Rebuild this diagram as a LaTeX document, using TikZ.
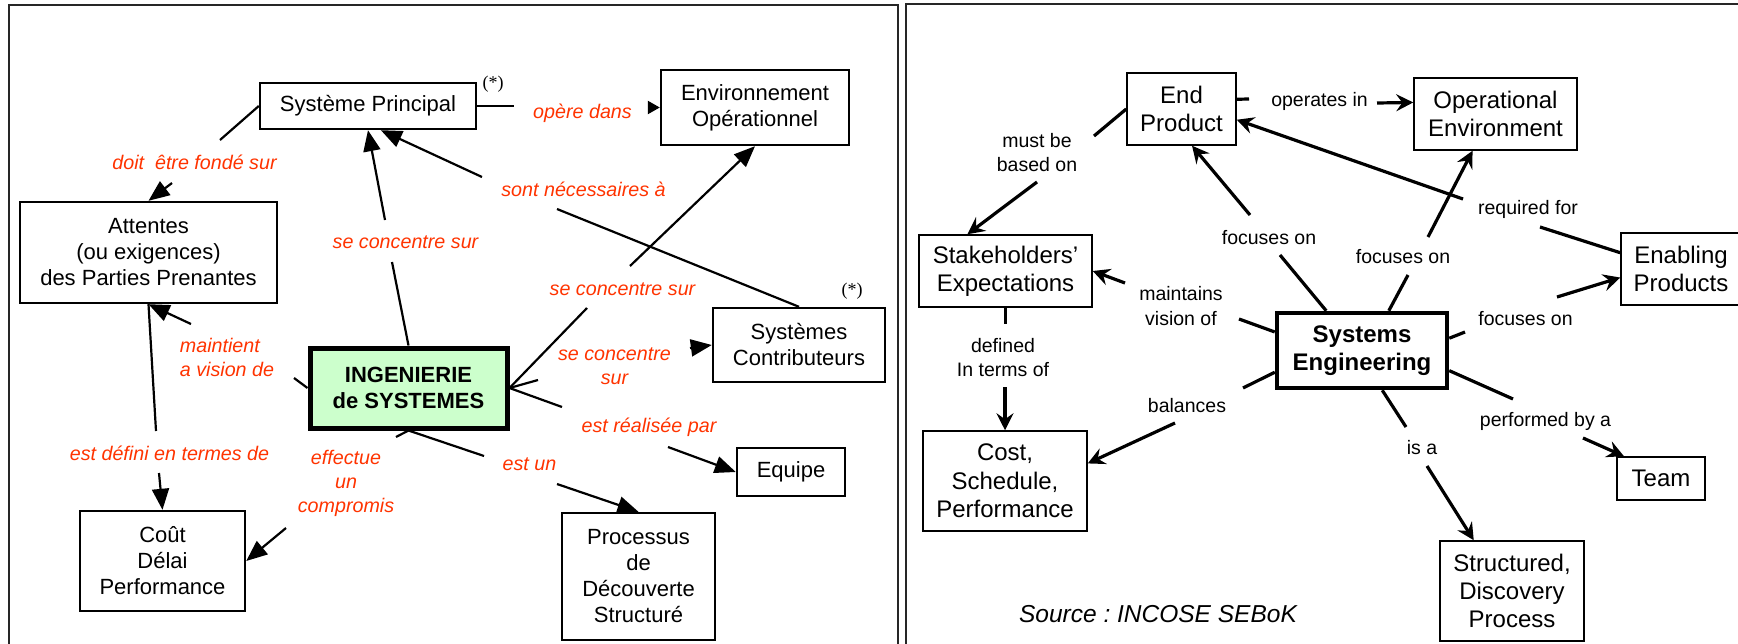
\documentclass[tikz,border=0pt]{standalone}
\usepackage{fontspec}
\setmainfont{Liberation Sans}
\newfontfamily\starfont{Liberation Serif}
\usetikzlibrary{arrows.meta}
\frenchspacing

\definecolor{linkred}{RGB}{255,51,0}
\definecolor{paleGreen}{RGB}{204,255,204}

\begin{document}
\begin{tikzpicture}[x=1pt,y=-1pt,
  frame/.style={line width=1.8pt, draw=black!85},
  lbox/.style={draw, line width=2.4pt, align=center, inner sep=0pt,
    font=\fontsize{22}{26}\selectfont},
  rbox/.style={draw, line width=1.5pt, align=center, inner sep=0pt,
    font=\fontsize{24}{28.3}\selectfont},
  llab/.style={align=center, inner sep=0pt, text=linkred,
    font=\fontsize{19.7}{24}\selectfont\itshape},
  rlab/.style={align=center, inner sep=0pt,
    font=\fontsize{19.5}{24.5}\selectfont},
  lline/.style={line width=2.2pt},
  larrow/.style={lline, -{Triangle[length=21pt,width=17pt]}},
  rline/.style={line width=3.2pt},
  rarrow/.style={rline, -{Stealth[length=17pt,width=17pt,inset=6pt]}},
  starmark/.style={inner sep=0pt, font=\starfont\fontsize{18}{20}\selectfont},
]
\useasboundingbox (0,0) rectangle (1738,643);

% panel frames
\draw[frame] (9,650) -- (9,5) -- (898,5) -- (898,650);
\draw[frame] (906,650) -- (906,4) -- (1745,4);

% ---------------- French concept map ----------------
\node[lbox, minimum width=216pt, minimum height=46pt] (sp) at (368,106) {Système Principal};
\node[lbox, minimum width=188pt, minimum height=75pt] (env) at (755,107.5) {Environnement\\Opérationnel};
\node[lbox, minimum width=257pt, minimum height=101pt] (att) at (148.5,252.5) {Attentes\\(ou exigences)\\des Parties Prenantes};
\node[lbox, minimum width=172pt, minimum height=74pt] (sc) at (799,345) {Systèmes\\Contributeurs};
\node[lbox, line width=5pt, fill=paleGreen, font=\fontsize{22}{26}\selectfont\bfseries,
      minimum width=197pt, minimum height=80pt] (ing) at (408.5,388) {INGENIERIE\\de SYSTEMES};
\node[lbox, minimum width=108pt, minimum height=48pt] (eq) at (791,472) {Equipe};
\node[lbox, minimum width=165pt, minimum height=100pt] (cout) at (162.5,561) {Coût\\Délai\\Performance};
\node[lbox, minimum width=153pt, minimum height=127pt] (proc) at (638.5,576.5) {Processus\\de\\Découverte\\Structuré};

\node[starmark] (st1) at (493,84) {(*)};
\node[starmark] (st2) at (852,291) {(*)};

\node[llab] (l1) at (194.5,162.5) {doit\ \ être fondé sur};
\node[llab] (l2) at (582.5,113) {opère dans};
\node[llab] (l3) at (405.5,242) {se concentre sur};
\node[llab] (l4) at (583.5,189) {sont nécessaires à};
\node[llab] (l5) at (622.5,289) {se concentre sur};
\node[llab] (l6) at (614.5,366) {se concentre\\sur};
\node[llab] (l7) at (649,427.5) {est réalisée par};
\node[llab] (l8) at (529.5,464) {est un};
\node[llab, align=left] (l9) at (227,357.5) {maintient\\a vision de};
\node[llab] (l10) at (169.5,453) {est défini en termes de};
\node[llab] (l11) at (346,483) {effectue\\un\\compromis};

\coordinate (g1a) at (220,140);  \coordinate (g1b) at (172,183);
\coordinate (g2a) at (514,106);  \coordinate (g2b) at (649,107.5);
\coordinate (g3a) at (392,262);  \coordinate (g3b) at (385,220);
\coordinate (g4a) at (557,209);  \coordinate (g4b) at (482,177);
\coordinate (g5a) at (587,308);  \coordinate (g5b) at (630,266);
\coordinate (g6a) at (538,380);  \coordinate (g6b) at (690,348);
\coordinate (g7a) at (562,407);  \coordinate (g7b) at (668,447);
\coordinate (g8a) at (484,456);  \coordinate (g8b) at (557,484);
\coordinate (g9a) at (294,378);  \coordinate (g9b) at (191,324);
\coordinate (g10a) at (156,431); \coordinate (g10b) at (159,473);
\coordinate (g11a) at (396,437); \coordinate (g11b) at (286,528);

\draw[lline] (sp.west) -- (g1a);   \draw[larrow] (g1b) -- (att.north);
\draw[lline] (sp.east) -- (g2a);   \draw[lline, -{Triangle[length=12pt,width=13pt]}] (g2b) -- (env.west);
\draw[lline] (ing.north) -- (g3a); \draw[larrow] (g3b) -- (sp.south);
\draw[lline] (sc.north) -- (g4a);  \draw[larrow] (g4b) -- (sp.-62);
\draw[lline] (ing.east) -- (g5a);  \draw[larrow] (g5b) -- (env.south);
\draw[lline] (ing.east) -- (g6a);  \draw[larrow] (g6b) -- (sc.west);
\draw[lline] (ing.east) -- (g7a);  \draw[larrow] (g7b) -- (eq.west);
\draw[lline] (ing.south) -- (g8a); \draw[larrow] (g8b) -- (proc.north);
\draw[lline] (ing.west) -- (g9a);  \draw[larrow] (g9b) -- (att.south);
\draw[lline] (att.south) -- (g10a); \draw[larrow] (g10b) -- (cout.north);
\draw[lline] (ing.south) -- (g11a); \draw[larrow] (g11b) -- (cout.east);

% ---------------- English concept map ----------------
\node[rbox, minimum width=109pt, minimum height=72pt] (ep) at (1181.5,109) {End\\Product};
\node[rbox, minimum width=163pt, minimum height=72pt] (op) at (1495.5,114) {Operational\\Environment};
\node[rbox, minimum width=173pt, minimum height=72pt] (sh) at (1005.5,271) {Stakeholders’\\Expectations};
\node[rbox, minimum width=120pt, minimum height=72pt] (enab) at (1681,269) {Enabling\\Products};
\node[rbox, line width=4.5pt, font=\fontsize{24}{28.3}\selectfont\bfseries,
      minimum width=170pt, minimum height=75pt] (se) at (1362,350.5) {Systems\\Engineering};
\node[rbox, minimum width=164pt, minimum height=100pt] (cost) at (1005,481) {Cost,\\Schedule,\\Performance};
\node[rbox, minimum width=88pt, minimum height=43pt] (team) at (1661,478.5) {Team};
\node[rbox, minimum width=144pt, minimum height=100pt] (str) at (1512,591) {Structured,\\Discovery\\Process};

\node[rlab] (r12) at (1037,152.5) {must be\\based on};
\node[rlab] (r13) at (1319.5,101) {operates in};
\node[rlab] (r14) at (1528,209) {required for};
\node[rlab] (r15) at (1269,237.5) {focuses on};
\node[rlab] (r16) at (1403,257) {focuses on};
\node[rlab] (r17) at (1525.5,319) {focuses on};
\node[rlab] (r18) at (1181,306) {maintains\\vision of};
\node[rlab] (r19) at (1003,357.5) {defined\\In terms of};
\node[rlab] (r20) at (1187,405.5) {balances};
\node[rlab] (r21) at (1422,447.5) {is a};
\node[rlab] (r22) at (1545.5,421.5) {performed by a};

\node[inner sep=0pt, font=\fontsize{24.5}{28}\selectfont\itshape] (source) at (1158,614) {Source : INCOSE SEBoK};

\coordinate (g12a) at (1094,136);  \coordinate (g12b) at (1037,182);
\coordinate (g13a) at (1249,99);   \coordinate (g13b) at (1377,103);
\coordinate (g14a) at (1540,227);  \coordinate (g14b) at (1463,199);
\coordinate (g15a) at (1280,255);  \coordinate (g15b) at (1250,215);
\coordinate (g16a) at (1408,275);  \coordinate (g16b) at (1428,237);
\coordinate (g17a) at (1465,332);  \coordinate (g17b) at (1557,297);
\coordinate (g18a) at (1239,319);  \coordinate (g18b) at (1125,283);
\coordinate (g19a) at (1005.5,324); \coordinate (g19b) at (1005,387);
\coordinate (g20a) at (1243,388);  \coordinate (g20b) at (1175,423);
\coordinate (g21a) at (1406,427);  \coordinate (g21b) at (1427,466);
\coordinate (g22a) at (1513,399);  \coordinate (g22b) at (1583,438);

\draw[rline] (ep.west) -- (g12a);  \draw[rarrow] (g12b) -- (sh.136);
\draw[rline] (ep.10) -- (g13a);    \draw[rarrow] (g13b) -- (op.172);
\draw[rline] (enab.165) -- (g14a); \draw[rarrow] (g14b) -- (ep.-11);
\draw[rline] (se.132) -- (g15a);   \draw[rarrow] (g15b) -- (ep.-74);
\draw[rline] (se.56) -- (g16a);    \draw[rarrow] (g16b) -- (op.-122);
\draw[rline] (se.8) -- (g17a);     \draw[rarrow] (g17b) -- (enab.-172);
\draw[rline] (se.168) -- (g18a);   \draw[rarrow] (g18b) -- (sh.east);
\draw[rline] (sh.south) -- (g19a); \draw[rarrow] (g19b) -- (cost.north);
\draw[rline] (se.-166) -- (g20a);  \draw[rarrow] (g20b) -- (cost.12);
\draw[rline] (se.-63) -- (g21a);   \draw[rarrow] (g21b) -- (str.127);
\draw[rline] (se.-13) -- (g22a);   \draw[rarrow] (g22b) -- (team.149);
\end{tikzpicture}
\end{document}
